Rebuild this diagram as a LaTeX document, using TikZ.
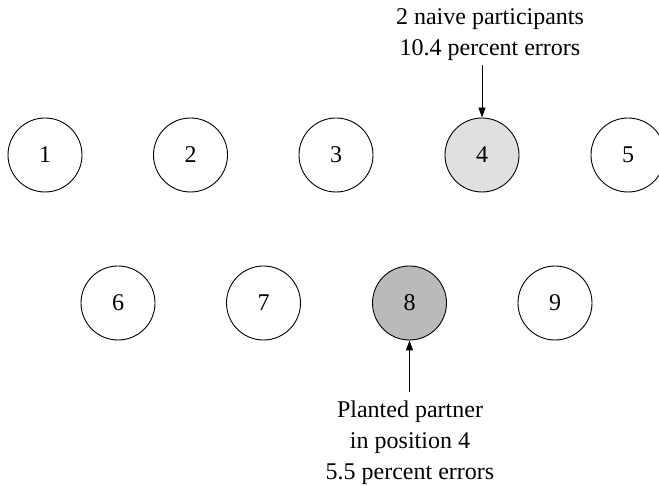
\documentclass[tikz,border=0pt]{standalone}
\usepackage{fontspec}
\setmainfont{Liberation Serif}
\usetikzlibrary{arrows.meta}
\begin{document}
\begin{tikzpicture}[x=1pt,y=-1pt,
  seat/.style={circle,draw=black,line width=0.9pt,minimum size=74pt,inner sep=0pt,font=\fontsize{24}{28}\selectfont},
  lbl/.style={align=center,font=\fontsize{24}{31}\selectfont,inner sep=0pt},
  pointer/.style={line width=0.9pt,-{Triangle[length=10pt,width=7pt]}}]
\useasboundingbox (0,0) rectangle (659,486);
\node[seat] (s1) at (45,155) {1};
\node[seat] (s2) at (190.5,155) {2};
\node[seat] (s3) at (336,155) {3};
\node[seat,fill=black!12] (s4) at (482,155) {4};
\node[seat] (s5) at (628,155) {5};
\node[seat] (s6) at (118,303) {6};
\node[seat] (s7) at (263.5,303) {7};
\node[seat,fill=black!27] (s8) at (409.5,303) {8};
\node[seat] (s9) at (555,303) {9};
\node[lbl,anchor=south] (top) at (490,61) {2 naive participants\\10.4 percent errors};
\node[lbl,anchor=north] (bot) at (410,401) {Planted partner\\in position 4\\5.5 percent errors};
\coordinate (ta) at (482,65);
\coordinate (ba) at (409.5,392);
\draw[pointer] (ta) -- (s4.north);
\draw[pointer] (ba) -- (s8.south);
\end{tikzpicture}
\end{document}
